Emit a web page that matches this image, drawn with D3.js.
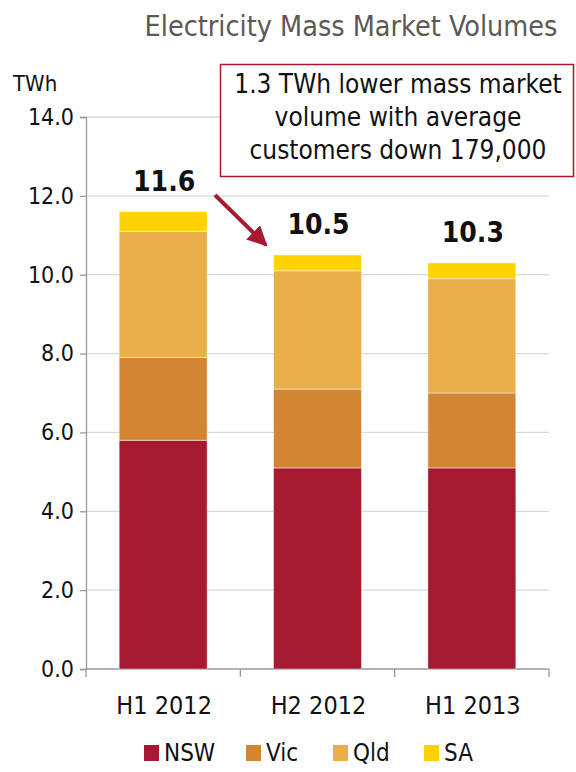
<!DOCTYPE html>
<html><head><meta charset="utf-8">
<script src="https://cdn.jsdelivr.net/npm/d3@7"></script>
<style>
html,body{margin:0;padding:0;background:#fff;}
svg{display:block;}
text{font-family:"DejaVu Sans Condensed","DejaVu Sans",sans-serif;}
</style></head>
<body>
<script>
const categories = ["H1 2012", "H2 2012", "H1 2013"];
const seriesNames = ["NSW", "Vic", "Qld", "SA"];
const NSW = [5.8, 5.1, 5.1];
const Vic = [2.1, 2.0, 1.9];
const Qld = [3.2, 3.0, 2.9];
const SA  = [0.5, 0.4, 0.4];
const totals = ["11.6", "10.5", "10.3"];
const yTicks = [0, 2, 4, 6, 8, 10, 12, 14];
const colors = ["#A51931", "#D38533", "#E8AF4A", "#FFD200"];
const titleText = "Electricity Mass Market Volumes";
const unitLabel = "TWh";
const noteLines = ["1.3 TWh lower mass market", "volume with average", "customers down 179,000"];

const W = 576, H = 772;
const svg = d3.select("body").append("svg").attr("width", W).attr("height", H);

const x = d3.scaleBand().domain(categories).range([86, 549]).paddingInner(0.43).paddingOuter(0.215);
const y = d3.scaleLinear().domain([0, 14]).range([669, 117]);

// title
svg.append("text").attr("x", 351).attr("y", 36).attr("text-anchor", "middle")
  .attr("font-size", 28.5).attr("fill", "#5E5852").text(titleText);

// gridlines
svg.append("g").selectAll("line").data(yTicks.filter(d => d > 0)).join("line")
  .attr("x1", 86).attr("x2", 549).attr("y1", d => y(d)).attr("y2", d => y(d))
  .attr("stroke", "#D9D9D9").attr("stroke-width", 1.3);

// y axis
const yAxis = svg.append("g").attr("transform", "translate(86,0)")
  .call(d3.axisLeft(y).tickValues(yTicks).tickFormat(d3.format(".1f")).tickSize(6).tickPadding(6));
yAxis.select(".domain").attr("stroke", "#9A9A9A").attr("stroke-width", 1.3);
yAxis.selectAll(".tick line").attr("stroke", "#9A9A9A").attr("stroke-width", 1.3);
yAxis.selectAll(".tick text").attr("font-size", 23).attr("fill", "#111")
  .attr("font-family", "'DejaVu Sans Condensed','DejaVu Sans',sans-serif");

// x axis
const xb = svg.append("g").attr("transform", "translate(0,669)");
xb.append("line").attr("x1", 86).attr("x2", 549).attr("stroke", "#9A9A9A").attr("stroke-width", 1.3);
const bounds = [0, 1, 2, 3].map(i => 86 + i * (463 / 3));
xb.selectAll("line.tk").data(bounds).join("line").attr("class", "tk")
  .attr("x1", d => d).attr("x2", d => d).attr("y1", 0).attr("y2", 8)
  .attr("stroke", "#9A9A9A").attr("stroke-width", 1.3);
xb.selectAll("text").data(categories).join("text")
  .attr("x", d => x(d) + x.bandwidth() / 2 + 1).attr("y", 45).attr("text-anchor", "middle")
  .attr("font-size", 25).attr("fill", "#111").text(d => d);

// stacked bars
const rows = categories.map((c, i) => ({cat: c, NSW: NSW[i], Vic: Vic[i], Qld: Qld[i], SA: SA[i]}));
const stack = d3.stack().keys(seriesNames)(rows);
svg.append("g").selectAll("g").data(stack).join("g").attr("fill", (d, i) => colors[i])
  .selectAll("rect").data(d => d).join("rect")
  .attr("x", d => x(d.data.cat)).attr("width", x.bandwidth())
  .attr("y", d => y(d[1])).attr("height", d => y(d[0]) - y(d[1]))
  .attr("stroke", "rgba(255,255,255,0.45)").attr("stroke-width", 1);

// total labels
const tops = rows.map(r => r.NSW + r.Vic + r.Qld + r.SA);
svg.append("g").selectAll("text").data(categories).join("text")
  .attr("x", d => x(d) + x.bandwidth() / 2 + 1)
  .attr("y", (d, i) => y(tops[i]) - 21)
  .attr("text-anchor", "middle").attr("font-size", 28).attr("font-weight", "bold").attr("fill", "#111")
  .text((d, i) => totals[i]);

// unit label
svg.append("text").attr("x", 13).attr("y", 91).attr("font-size", 22).attr("fill", "#111").text(unitLabel);

// annotation box
svg.append("rect").attr("x", 220.5).attr("y", 64.5).attr("width", 353).attr("height", 112)
  .attr("fill", "#fff").attr("stroke", "#A51931").attr("stroke-width", 1.5);
svg.append("g").selectAll("text").data(noteLines).join("text")
  .attr("x", 398).attr("y", (d, i) => 93 + i * 33).attr("text-anchor", "middle")
  .attr("font-size", 26).attr("fill", "#111").text(d => d);

// arrow
const defs = svg.append("defs");
defs.append("marker").attr("id", "ah").attr("viewBox", "0 0 10 10").attr("refX", 9).attr("refY", 5)
  .attr("markerWidth", 5).attr("markerHeight", 5).attr("orient", "auto").attr("markerUnits", "strokeWidth")
  .append("path").attr("d", "M0,0 L10,5 L0,10 Z").attr("fill", "#A51931");
svg.append("line").attr("x1", 215).attr("y1", 195).attr("x2", 266).attr("y2", 245)
  .attr("stroke", "#A51931").attr("stroke-width", 4).attr("marker-end", "url(#ah)");

// legend
const legX = [144, 246, 333, 424];
const lg = svg.append("g").selectAll("g").data(seriesNames).join("g")
  .attr("transform", (d, i) => `translate(${legX[i]},745)`);
lg.append("rect").attr("width", 15).attr("height", 16).attr("fill", (d, i) => colors[i]);
lg.append("text").attr("x", 20).attr("y", 16).attr("font-size", 24).attr("fill", "#111").text(d => d);
</script>
</body></html>
